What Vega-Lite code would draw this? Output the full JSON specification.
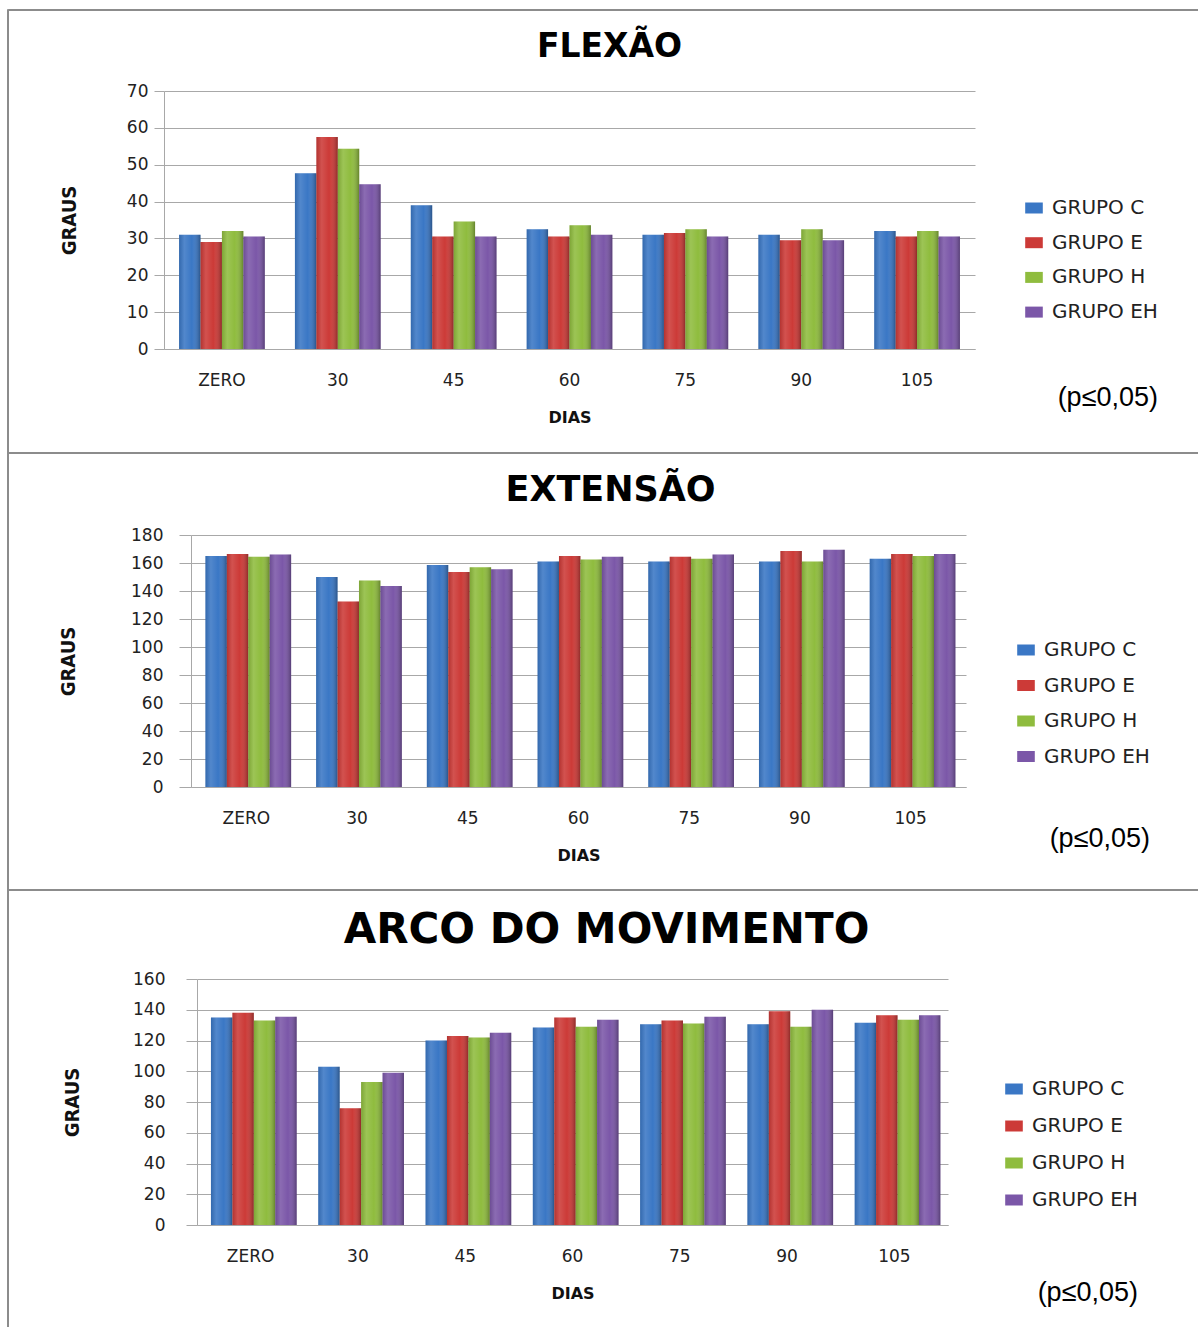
{
  "$schema": "https://vega.github.io/schema/vega-lite/v6.json",
  "background": "white",
  "padding": {"left": 6, "top": 8, "right": 0, "bottom": 0},
  "spacing": 0,
  "bounds": "flush",
  "resolve": {"scale": {"color": "independent"}, "legend": {"color": "independent"}},
  "config": {
    "view": {"stroke": null},
    "axis": {
      "gridColor": "#a8a8a8", "domainColor": "#a8a8a8", "tickColor": "#a8a8a8",
      "labelFont": "DejaVu Sans", "labelFontSize": 17, "labelColor": "#222222", "titleColor": "#111111"
    },
    "axisX": {"labelAngle": 0, "ticks": false, "labelPadding": 23, "titleFont": "DejaVu Sans", "titleFontWeight": "bold", "titleFontSize": 16, "titlePadding": 21},
    "axisY": {"titleFont": "DejaVu Sans Condensed, Liberation Sans", "titleFontWeight": "bold", "titleFontSize": 20},
    "title": {"font": "DejaVu Sans", "fontWeight": "bold", "color": "#000000", "anchor": "middle"},
    "legend": {
      "labelFont": "DejaVu Sans", "labelFontSize": 20, "labelColor": "#222222", "labelOffset": 8,
      "symbolType": "M-1.6,-1H1.6V1H-1.6Z", "symbolSize": 121, "symbolStrokeWidth": 0, "symbolOpacity": 1,
      "titleFont": "Liberation Sans", "titleFontWeight": "normal", "titleFontSize": 27, "titleColor": "#000000",
      "titleOrient": "bottom", "titleAnchor": "end", "orient": "none"
    }
  },
  "vconcat": [
    {
      "bounds": "flush", "spacing": 0,
      "hconcat": [
        {"width": 1, "height": 1319, "view": {"stroke": "#8c8c8c", "strokeWidth": 1}, "data": {"values": [{}]}, "mark": {"type": "rule", "opacity": 0}, "encoding": {}},
        {"width": 1191, "height": 1, "view": {"stroke": "#8c8c8c", "strokeWidth": 1}, "data": {"values": [{}]}, "mark": {"type": "rule", "opacity": 0}, "encoding": {}}
      ]
    },
    {"width": 1, "height": 82, "data": {"values": [{}]}, "mark": {"type": "rule", "opacity": 0}, "encoding": {}},
    {
      "bounds": "flush", "spacing": 0,
      "resolve": {"scale": {"color": "independent"}, "legend": {"color": "independent"}},
      "hconcat": [
        {"width": 157, "height": 258, "data": {"values": [{}]}, "mark": {"type": "rule", "opacity": 0}, "encoding": {}},
        {
          "width": 811, "height": 258,
          "title": {"text": "FLEXÃO", "fontSize": 33, "dx": 40, "offset": 18},
          "data": {"values": [
            {"dia": "ZERO", "grupo": "GRUPO C", "valor": 31}, {"dia": "ZERO", "grupo": "GRUPO E", "valor": 29}, {"dia": "ZERO", "grupo": "GRUPO H", "valor": 32}, {"dia": "ZERO", "grupo": "GRUPO EH", "valor": 30.5},
            {"dia": "30", "grupo": "GRUPO C", "valor": 47.7}, {"dia": "30", "grupo": "GRUPO E", "valor": 57.5}, {"dia": "30", "grupo": "GRUPO H", "valor": 54.3}, {"dia": "30", "grupo": "GRUPO EH", "valor": 44.7},
            {"dia": "45", "grupo": "GRUPO C", "valor": 39}, {"dia": "45", "grupo": "GRUPO E", "valor": 30.5}, {"dia": "45", "grupo": "GRUPO H", "valor": 34.6}, {"dia": "45", "grupo": "GRUPO EH", "valor": 30.5},
            {"dia": "60", "grupo": "GRUPO C", "valor": 32.5}, {"dia": "60", "grupo": "GRUPO E", "valor": 30.5}, {"dia": "60", "grupo": "GRUPO H", "valor": 33.6}, {"dia": "60", "grupo": "GRUPO EH", "valor": 31},
            {"dia": "75", "grupo": "GRUPO C", "valor": 31}, {"dia": "75", "grupo": "GRUPO E", "valor": 31.5}, {"dia": "75", "grupo": "GRUPO H", "valor": 32.5}, {"dia": "75", "grupo": "GRUPO EH", "valor": 30.5},
            {"dia": "90", "grupo": "GRUPO C", "valor": 31}, {"dia": "90", "grupo": "GRUPO E", "valor": 29.5}, {"dia": "90", "grupo": "GRUPO H", "valor": 32.5}, {"dia": "90", "grupo": "GRUPO EH", "valor": 29.5},
            {"dia": "105", "grupo": "GRUPO C", "valor": 32}, {"dia": "105", "grupo": "GRUPO E", "valor": 30.5}, {"dia": "105", "grupo": "GRUPO H", "valor": 32}, {"dia": "105", "grupo": "GRUPO EH", "valor": 30.5}
          ]},
          "encoding": {
            "x": {"field": "dia", "type": "ordinal", "sort": ["ZERO", "30", "45", "60", "75", "90", "105"], "scale": {"paddingInner": 0.26, "paddingOuter": 0.13}, "axis": {"title": "DIAS"}},
            "xOffset": {"field": "grupo", "type": "nominal", "sort": ["GRUPO C", "GRUPO E", "GRUPO H", "GRUPO EH"]},
            "y": {"field": "valor", "type": "quantitative", "scale": {"domain": [0, 70]}, "axis": {"title": "GRAUS", "values": [0, 10, 20, 30, 40, 50, 60, 70], "tickSize": 10, "labelPadding": 6, "titlePadding": 47}}
          },
          "layer": [
            {"mark": {"type": "bar"},
             "encoding": {"color": {"field": "grupo", "type": "nominal", "scale": {"domain": ["GRUPO C", "GRUPO E", "GRUPO H", "GRUPO EH"], "range": ["#3a77c5", "#cc3a37", "#8fbc3e", "#7b57a8"]},
               "legend": {"title": "(p≤0,05)", "legendX": 860, "legendY": 107, "rowPadding": 14.7, "titlePadding": 63}}}},
            {"mark": {"type": "bar", "fill": {"gradient": "linear", "x1": 0, "y1": 0, "x2": 1, "y2": 0, "stops": [{"offset": 0, "color": "rgba(0,0,0,0.12)"}, {"offset": 0.25, "color": "rgba(255,255,255,0.12)"}, {"offset": 0.6, "color": "rgba(255,255,255,0)"}, {"offset": 1, "color": "rgba(0,0,0,0.3)"}]}}}
          ]
        }
      ]
    },
    {"width": 1, "height": 361, "data": {"values": [{}]}, "mark": {"type": "rule", "opacity": 0}, "encoding": {}},
    {"width": 1192, "height": 1, "view": {"stroke": "#8c8c8c", "strokeWidth": 1}, "data": {"values": [{}]}, "mark": {"type": "rule", "opacity": 0}, "encoding": {}},
    {"width": 1, "height": 82, "data": {"values": [{}]}, "mark": {"type": "rule", "opacity": 0}, "encoding": {}},
    {
      "bounds": "flush", "spacing": 0,
      "resolve": {"scale": {"color": "independent"}, "legend": {"color": "independent"}},
      "hconcat": [
        {"width": 184, "height": 252, "data": {"values": [{}]}, "mark": {"type": "rule", "opacity": 0}, "encoding": {}},
        {
          "width": 775, "height": 252,
          "title": {"text": "EXTENSÃO", "fontSize": 35, "dx": 32, "offset": 18},
          "data": {"values": [
            {"dia": "ZERO", "grupo": "GRUPO C", "valor": 165}, {"dia": "ZERO", "grupo": "GRUPO E", "valor": 166.5}, {"dia": "ZERO", "grupo": "GRUPO H", "valor": 164.5}, {"dia": "ZERO", "grupo": "GRUPO EH", "valor": 166},
            {"dia": "30", "grupo": "GRUPO C", "valor": 150}, {"dia": "30", "grupo": "GRUPO E", "valor": 132.5}, {"dia": "30", "grupo": "GRUPO H", "valor": 147.5}, {"dia": "30", "grupo": "GRUPO EH", "valor": 143.5},
            {"dia": "45", "grupo": "GRUPO C", "valor": 158.5}, {"dia": "45", "grupo": "GRUPO E", "valor": 153.5}, {"dia": "45", "grupo": "GRUPO H", "valor": 157}, {"dia": "45", "grupo": "GRUPO EH", "valor": 155.5},
            {"dia": "60", "grupo": "GRUPO C", "valor": 161}, {"dia": "60", "grupo": "GRUPO E", "valor": 165}, {"dia": "60", "grupo": "GRUPO H", "valor": 162.5}, {"dia": "60", "grupo": "GRUPO EH", "valor": 164.5},
            {"dia": "75", "grupo": "GRUPO C", "valor": 161}, {"dia": "75", "grupo": "GRUPO E", "valor": 164.5}, {"dia": "75", "grupo": "GRUPO H", "valor": 163}, {"dia": "75", "grupo": "GRUPO EH", "valor": 166},
            {"dia": "90", "grupo": "GRUPO C", "valor": 161}, {"dia": "90", "grupo": "GRUPO E", "valor": 168.5}, {"dia": "90", "grupo": "GRUPO H", "valor": 161}, {"dia": "90", "grupo": "GRUPO EH", "valor": 169.5},
            {"dia": "105", "grupo": "GRUPO C", "valor": 163}, {"dia": "105", "grupo": "GRUPO E", "valor": 166.5}, {"dia": "105", "grupo": "GRUPO H", "valor": 165}, {"dia": "105", "grupo": "GRUPO EH", "valor": 166.5}
          ]},
          "encoding": {
            "x": {"field": "dia", "type": "ordinal", "sort": ["ZERO", "30", "45", "60", "75", "90", "105"], "scale": {"paddingInner": 0.26, "paddingOuter": 0.13}, "axis": {"title": "DIAS"}},
            "xOffset": {"field": "grupo", "type": "nominal", "sort": ["GRUPO C", "GRUPO E", "GRUPO H", "GRUPO EH"]},
            "y": {"field": "valor", "type": "quantitative", "scale": {"domain": [0, 180]}, "axis": {"title": "GRAUS", "values": [0, 20, 40, 60, 80, 100, 120, 140, 160, 180], "tickSize": 12, "labelPadding": 16, "titlePadding": 51.6}}
          },
          "layer": [
            {"mark": {"type": "bar"},
             "encoding": {"color": {"field": "grupo", "type": "nominal", "scale": {"domain": ["GRUPO C", "GRUPO E", "GRUPO H", "GRUPO EH"], "range": ["#3a77c5", "#cc3a37", "#8fbc3e", "#7b57a8"]},
               "legend": {"title": "(p≤0,05)", "legendX": 825, "legendY": 105, "rowPadding": 15.5, "titlePadding": 59}}}},
            {"mark": {"type": "bar", "fill": {"gradient": "linear", "x1": 0, "y1": 0, "x2": 1, "y2": 0, "stops": [{"offset": 0, "color": "rgba(0,0,0,0.12)"}, {"offset": 0.25, "color": "rgba(255,255,255,0.12)"}, {"offset": 0.6, "color": "rgba(255,255,255,0)"}, {"offset": 1, "color": "rgba(0,0,0,0.3)"}]}}}
          ]
        }
      ]
    },
    {"width": 1, "height": 354, "data": {"values": [{}]}, "mark": {"type": "rule", "opacity": 0}, "encoding": {}},
    {"width": 1192, "height": 1, "view": {"stroke": "#8c8c8c", "strokeWidth": 1}, "data": {"values": [{}]}, "mark": {"type": "rule", "opacity": 0}, "encoding": {}},
    {"width": 1, "height": 89, "data": {"values": [{}]}, "mark": {"type": "rule", "opacity": 0}, "encoding": {}},
    {
      "bounds": "flush", "spacing": 0,
      "resolve": {"scale": {"color": "independent"}, "legend": {"color": "independent"}},
      "hconcat": [
        {"width": 190, "height": 246, "data": {"values": [{}]}, "mark": {"type": "rule", "opacity": 0}, "encoding": {}},
        {
          "width": 751, "height": 246,
          "title": {"text": "ARCO DO MOVIMENTO", "fontSize": 42, "dx": 34, "offset": 18},
          "data": {"values": [
            {"dia": "ZERO", "grupo": "GRUPO C", "valor": 135}, {"dia": "ZERO", "grupo": "GRUPO E", "valor": 138}, {"dia": "ZERO", "grupo": "GRUPO H", "valor": 133}, {"dia": "ZERO", "grupo": "GRUPO EH", "valor": 135.5},
            {"dia": "30", "grupo": "GRUPO C", "valor": 103}, {"dia": "30", "grupo": "GRUPO E", "valor": 76}, {"dia": "30", "grupo": "GRUPO H", "valor": 93}, {"dia": "30", "grupo": "GRUPO EH", "valor": 99},
            {"dia": "45", "grupo": "GRUPO C", "valor": 120}, {"dia": "45", "grupo": "GRUPO E", "valor": 123}, {"dia": "45", "grupo": "GRUPO H", "valor": 122}, {"dia": "45", "grupo": "GRUPO EH", "valor": 125},
            {"dia": "60", "grupo": "GRUPO C", "valor": 128.5}, {"dia": "60", "grupo": "GRUPO E", "valor": 135}, {"dia": "60", "grupo": "GRUPO H", "valor": 129}, {"dia": "60", "grupo": "GRUPO EH", "valor": 133.5},
            {"dia": "75", "grupo": "GRUPO C", "valor": 130.5}, {"dia": "75", "grupo": "GRUPO E", "valor": 133}, {"dia": "75", "grupo": "GRUPO H", "valor": 131}, {"dia": "75", "grupo": "GRUPO EH", "valor": 135.5},
            {"dia": "90", "grupo": "GRUPO C", "valor": 130.5}, {"dia": "90", "grupo": "GRUPO E", "valor": 139}, {"dia": "90", "grupo": "GRUPO H", "valor": 129}, {"dia": "90", "grupo": "GRUPO EH", "valor": 140},
            {"dia": "105", "grupo": "GRUPO C", "valor": 131.5}, {"dia": "105", "grupo": "GRUPO E", "valor": 136.5}, {"dia": "105", "grupo": "GRUPO H", "valor": 133.5}, {"dia": "105", "grupo": "GRUPO EH", "valor": 136.5}
          ]},
          "encoding": {
            "x": {"field": "dia", "type": "ordinal", "sort": ["ZERO", "30", "45", "60", "75", "90", "105"], "scale": {"paddingInner": 0.26, "paddingOuter": 0.13}, "axis": {"title": "DIAS"}},
            "xOffset": {"field": "grupo", "type": "nominal", "sort": ["GRUPO C", "GRUPO E", "GRUPO H", "GRUPO EH"]},
            "y": {"field": "valor", "type": "quantitative", "scale": {"domain": [0, 160]}, "axis": {"title": "GRAUS", "values": [0, 20, 40, 60, 80, 100, 120, 140, 160], "tickSize": 11, "labelPadding": 21, "titlePadding": 49.6}}
          },
          "layer": [
            {"mark": {"type": "bar"},
             "encoding": {"color": {"field": "grupo", "type": "nominal", "scale": {"domain": ["GRUPO C", "GRUPO E", "GRUPO H", "GRUPO EH"], "range": ["#3a77c5", "#cc3a37", "#8fbc3e", "#7b57a8"]},
               "legend": {"title": "(p≤0,05)", "legendX": 807, "legendY": 100, "rowPadding": 17, "titlePadding": 70}}}},
            {"mark": {"type": "bar", "fill": {"gradient": "linear", "x1": 0, "y1": 0, "x2": 1, "y2": 0, "stops": [{"offset": 0, "color": "rgba(0,0,0,0.12)"}, {"offset": 0.25, "color": "rgba(255,255,255,0.12)"}, {"offset": 0.6, "color": "rgba(255,255,255,0)"}, {"offset": 1, "color": "rgba(0,0,0,0.3)"}]}}}
          ]
        }
      ]
    }
  ]
}
